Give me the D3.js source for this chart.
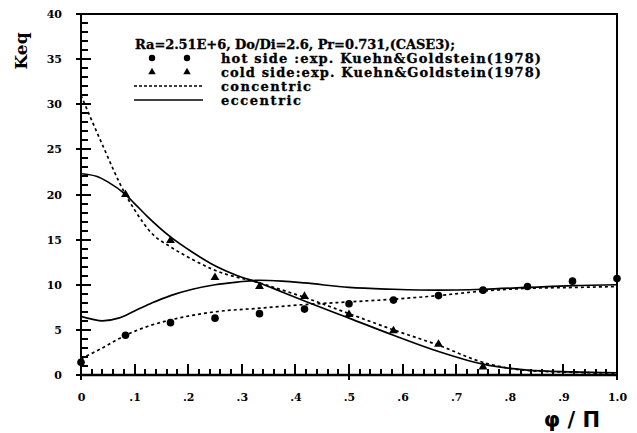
<!DOCTYPE html>
<html>
<head>
<meta charset="utf-8">
<script src="https://cdn.jsdelivr.net/npm/d3@7"></script>
<style>
  body { margin: 0; background: #fff; }
  svg { display: block; }
  .tick text { font-family: 'DejaVu Serif', serif; font-weight: bold; font-size: 11px; fill: #000; }
  .legend text { font-family: 'DejaVu Serif', serif; font-weight: bold; font-size: 13px; fill: #000; stroke: #000; stroke-width: 0.3px; }
</style>
</head>
<body>
<script>
// Experimental data (Kuehn & Goldstein 1978)
const hotExpX = [0, 0.083, 0.167, 0.25, 0.333, 0.417, 0.5, 0.583, 0.667, 0.75, 0.833, 0.917, 1.0];
const hotExpY = [1.4, 4.4, 5.8, 6.3, 6.8, 7.3, 7.9, 8.3, 8.8, 9.4, 9.8, 10.4, 10.7];
const coldExpX = [0.083, 0.167, 0.25, 0.333, 0.417, 0.5, 0.583, 0.667, 0.75];
const coldExpY = [20, 14.9, 10.8, 9.8, 8.7, 6.7, 4.9, 3.4, 0.9];

// Concentric (dashed)
const concHotX = [0, 0.04, 0.083, 0.125, 0.167, 0.25, 0.333, 0.417, 0.5, 0.583, 0.667, 0.75, 0.833, 0.917, 1];
const concHotY = [1.8, 3.0, 4.4, 5.4, 6.1, 7.0, 7.4, 7.8, 8.1, 8.4, 8.8, 9.3, 9.6, 9.7, 9.8];
const concColdX = [0, 0.04, 0.083, 0.1, 0.132, 0.167, 0.208, 0.25, 0.333, 0.417, 0.5, 0.583, 0.667, 0.75, 0.833, 0.917, 1];
const concColdY = [31, 25.5, 20, 18.3, 15.7, 14.2, 12.8, 11.6, 10.2, 8.6, 6.8, 5.0, 3.3, 1.4, 0.5, 0.3, 0.2];

// Eccentric (solid)
const eccHotX = [0, 0.02, 0.04, 0.07, 0.1, 0.133, 0.167, 0.208, 0.25, 0.292, 0.333, 0.375, 0.417, 0.5, 0.583, 0.667, 0.75, 0.833, 0.917, 1];
const eccHotY = [6.5, 6.2, 6.0, 6.3, 7.1, 8.0, 8.8, 9.5, 10.0, 10.3, 10.5, 10.4, 10.2, 9.7, 9.5, 9.4, 9.5, 9.7, 9.9, 10.0];
const eccColdX = [0, 0.03, 0.05, 0.083, 0.1, 0.125, 0.167, 0.208, 0.25, 0.292, 0.333, 0.375, 0.417, 0.5, 0.583, 0.667, 0.75, 0.833, 0.917, 1];
const eccColdY = [22.3, 22.0, 21.4, 20.0, 19.0, 17.5, 15.3, 13.6, 12.1, 11.0, 10.2, 9.2, 8.2, 6.3, 4.4, 2.6, 1.2, 0.55, 0.35, 0.25];

// Ticks
const xMajor = [0, 0.1, 0.2, 0.3, 0.4, 0.5, 0.6, 0.7, 0.8, 0.9, 1.0];
const yMajor = [0, 5, 10, 15, 20, 25, 30, 35, 40];

const legendTitle = 'Ra=2.51E+6, Do/Di=2.6, Pr=0.731,(CASE3);';
const legendLabels = ['hot side :exp. Kuehn&Goldstein(1978)', 'cold side:exp. Kuehn&Goldstein(1978)', 'concentric', 'eccentric'];

const w = 637;
const h = 433;
const m = { left: 81, right: 20, top: 14, bottom: 58 };

const svg = d3.select('body').append('svg').attr('width', w).attr('height', h);

const x = d3.scaleLinear().domain([0, 1]).range([m.left, w - m.right]);
const y = d3.scaleLinear().domain([0, 40]).range([h - m.bottom, m.top]);

const x0 = x(0);
const y0 = y(0);

// minor ticks
const xMinor = d3.range(0, 51).map(i => i / 50).filter(v => Math.round(v * 50) % 5 !== 0);
const yMinor = d3.range(0, 41).filter(v => v % 5 !== 0);

// tick marks (pointing into the plot)
const tickG = svg.append('g').attr('stroke', '#000').attr('stroke-width', 2);
tickG.selectAll('line.xmin').data(xMinor).join('line').attr('class', 'xmin')
  .attr('x1', d => Math.round(x(d))).attr('x2', d => Math.round(x(d)))
  .attr('y1', y0).attr('y2', y0 - 6);
tickG.selectAll('line.xmaj').data(xMajor).join('line').attr('class', 'xmaj')
  .attr('x1', d => Math.round(x(d))).attr('x2', d => Math.round(x(d)))
  .attr('y1', d => ((d === 0 || d === 0.5 || d === 1) ? y0 + 5 : y0)).attr('y2', y0 - 11);
tickG.selectAll('line.ymin').data(yMinor).join('line').attr('class', 'ymin')
  .attr('x1', x0).attr('x2', x0 + 7)
  .attr('y1', d => Math.round(y(d))).attr('y2', d => Math.round(y(d)));
tickG.selectAll('line.ymaj').data(yMajor).join('line').attr('class', 'ymaj')
  .attr('x1', x0 - 5).attr('x2', x0 + 10)
  .attr('y1', d => Math.round(y(d))).attr('y2', d => Math.round(y(d)));

const fmtX = d => (d === 0 ? '0' : d === 1 ? '1.0' : d3.format('.1f')(d).replace('0.', '.'));

svg.append('g')
  .attr('transform', `translate(0,${y0})`)
  .call(d3.axisBottom(x).tickValues(xMajor).tickSize(0).tickPadding(18).tickFormat(fmtX))
  .call(g => g.select('.domain').remove())
  .call(g => g.selectAll('.tick line').remove());

svg.append('g')
  .attr('transform', `translate(${x0},0)`)
  .call(d3.axisLeft(y).tickValues(yMajor).tickSize(0).tickPadding(19))
  .call(g => g.select('.domain').remove())
  .call(g => g.selectAll('.tick line').remove());

// frame
svg.append('path')
  .attr('d', `M${x0},${y0}V${y(40)}H${x(1)}V${y0 + 5}`)
  .attr('fill', 'none')
  .attr('stroke', '#000')
  .attr('stroke-width', 2);
svg.append('path')
  .attr('d', `M${x0},${y0}H${x(1)}`)
  .attr('fill', 'none')
  .attr('stroke', '#000')
  .attr('stroke-width', 2.5);

// curves
const line = d3.line().x(d => x(d[0])).y(d => y(d[1])).curve(d3.curveMonotoneX);
const zip = (a, b) => a.map((v, i) => [v, b[i]]);

const curves = [
  { xs: concHotX, ys: concHotY, dash: '3,3' },
  { xs: concColdX, ys: concColdY, dash: '3,3' },
  { xs: eccHotX, ys: eccHotY, dash: null },
  { xs: eccColdX, ys: eccColdY, dash: null }
];

curves.forEach(c => {
  svg.append('path')
    .datum(zip(c.xs, c.ys))
    .attr('d', line)
    .attr('fill', 'none')
    .attr('stroke', '#000')
    .attr('stroke-width', 1.7)
    .attr('stroke-dasharray', c.dash);
});

// markers
svg.append('g').selectAll('circle')
  .data(zip(hotExpX, hotExpY))
  .join('circle')
  .attr('cx', d => x(d[0]))
  .attr('cy', d => y(d[1]))
  .attr('r', 3.8)
  .attr('fill', '#000');

const tri = d3.symbol().type(d3.symbolTriangle).size(34);
svg.append('g').selectAll('path')
  .data(zip(coldExpX, coldExpY))
  .join('path')
  .attr('d', tri)
  .attr('transform', d => `translate(${x(d[0])},${y(d[1])})`)
  .attr('fill', '#000');

// legend
const lg = svg.append('g').attr('class', 'legend');
lg.append('text').attr('x', 135).attr('y', 49)
  .attr('textLength', 320).attr('lengthAdjust', 'spacing')
  .text(legendTitle);

const rowY = [58, 72, 86, 100];
const labelLen = [320, 320, 90, 80];
lg.selectAll('text.lab')
  .data(legendLabels)
  .join('text')
  .attr('class', 'lab')
  .attr('x', 221)
  .attr('y', (d, i) => rowY[i] + 4.5)
  .attr('textLength', (d, i) => labelLen[i])
  .attr('lengthAdjust', 'spacing')
  .text(d => d);

[152, 187].forEach(cx => {
  lg.append('circle').attr('cx', cx).attr('cy', rowY[0]).attr('r', 3.2).attr('fill', '#000');
  lg.append('path').attr('d', d3.symbol().type(d3.symbolTriangle).size(24))
    .attr('transform', `translate(${cx},${rowY[1]})`).attr('fill', '#000');
});

lg.append('line').attr('x1', 134).attr('x2', 203).attr('y1', rowY[2]).attr('y2', rowY[2])
  .attr('stroke', '#000').attr('stroke-width', 1.7).attr('stroke-dasharray', '3,2');
lg.append('line').attr('x1', 134).attr('x2', 203).attr('y1', rowY[3]).attr('y2', rowY[3])
  .attr('stroke', '#000').attr('stroke-width', 1.7);

// axis titles
svg.append('text')
  .attr('transform', 'translate(27,51) rotate(-90)')
  .attr('text-anchor', 'middle')
  .style('font-family', "'DejaVu Serif', serif")
  .style('font-weight', 'bold')
  .style('font-size', '17px')
  .text('Keq');

svg.append('text')
  .attr('x', 572)
  .attr('y', 427)
  .attr('text-anchor', 'middle')
  .style('font-family', "'DejaVu Sans', sans-serif")
  .style('font-weight', 'bold')
  .style('font-size', '21px')
  .text('φ / Π');
</script>
</body>
</html>
